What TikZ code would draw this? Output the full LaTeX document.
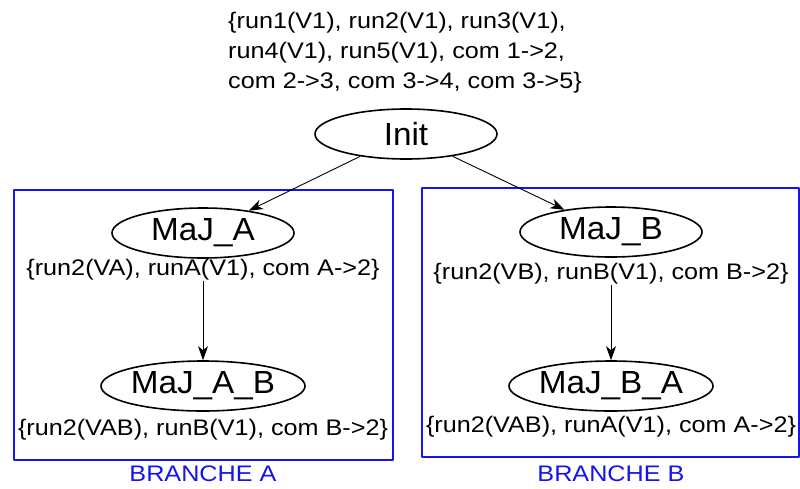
\documentclass[tikz,border=0pt]{standalone}
\usepackage{fontspec}
\setmainfont{Liberation Sans}
\newfontfamily\infofont[FakeStretch=1.12]{Liberation Sans}
\newfontfamily\etatfont[FakeStretch=1.04]{Liberation Sans}
\usetikzlibrary{shapes.geometric,arrows.meta}
\definecolor{brancheblue}{RGB}{20,20,240}

\begin{document}
\begin{tikzpicture}[x=1pt,y=-1pt,line join=round,>={Stealth[length=14pt,width=10pt,inset=4pt]}]
	\tikzset{etat/.style={draw,ellipse,line width=1.6pt,minimum width=182pt,minimum height=50pt,inner sep=0pt,font=\etatfont\fontsize{32}{34}\selectfont},
		info/.style={inner sep=0pt,font=\infofont\fontsize{22.5}{30}\selectfont},
		branche/.style={draw=brancheblue,line width=2pt},
		titre/.style={inner sep=0pt,text=brancheblue,font=\infofont\fontsize{22.5}{24}\selectfont},
		trans/.style={->,line width=0.9pt}}
	\useasboundingbox (0,0) rectangle (800,488);
	% branches
	\draw[branche] (14,190) rectangle (393,460);
	\draw[branche] (422,188) rectangle (799,457);
	\node[titre] (tA) at (203,474) {BRANCHE A};
	\node[titre] (tB) at (611,474) {BRANCHE B};
	% etats
	\node[info,anchor=north west,align=left] (lInit) at (228,12) {\{run1(V1), run2(V1), run3(V1),\\run4(V1), run5(V1), com 1->2,\\com 2->3, com 3->4, com 3->5\}};
	\node[etat] (init) at (406,134) {Init};
	\node[etat] (majA) at (203,233) {MaJ\_A};
	\node[info] (lA) at (203,270) {\{run2(VA), runA(V1), com A->2\}};
	\node[etat] (majAB) at (203,386) {MaJ\_A\_B};
	\node[info] (lAB) at (203,430) {\{run2(VAB), runB(V1), com B->2\}};
	\node[etat] (majB) at (611,232) {MaJ\_B};
	\node[info] (lB) at (611,274) {\{run2(VB), runB(V1), com B->2\}};
	\node[etat] (majBA) at (611,386) {MaJ\_B\_A};
	\node[info] (lBA) at (611,427) {\{run2(VAB), runA(V1), com A->2\}};
	% transitions
	\draw[trans] (init)--(majA);
	\draw[trans] (init)--(majB);
	\draw[trans] (lA.south)--(majAB);
	\draw[trans] (lB.south)--(majBA);
\end{tikzpicture}
\end{document}
